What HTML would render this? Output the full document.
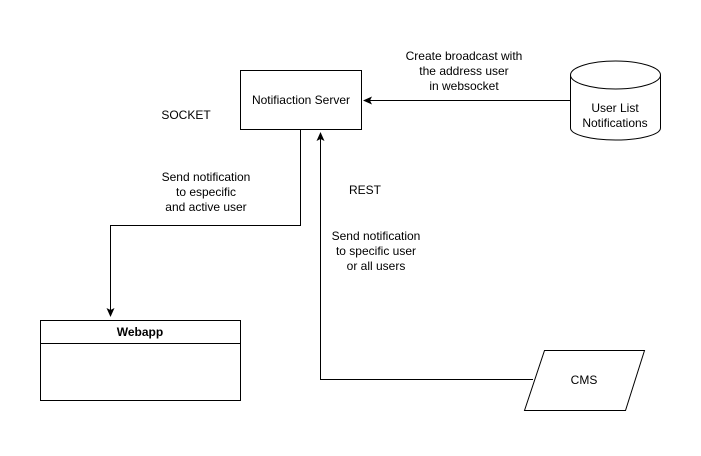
<!DOCTYPE html>
<html><head><style>body{margin:0;background:#fff}</style></head><body>
<svg width="701" height="451" xmlns="http://www.w3.org/2000/svg" font-family="Liberation Sans, Arial, sans-serif" font-size="12">
<defs><marker id="a" markerWidth="10" markerHeight="10" refX="8" refY="5" orient="auto" markerUnits="userSpaceOnUse"><path d="M0,1 L9,5 L0,9 L2,5 Z" fill="#000"/></marker></defs>
<rect x="240.5" y="70.5" width="121" height="59" fill="#fff" stroke="#000"/>
<text x="301" y="104" text-anchor="middle">Notifiaction Server</text>
<text x="186" y="119" text-anchor="middle">SOCKET</text>
<path d="M570,100.5 H364" stroke="#000" fill="none" marker-end="url(#a)"/>
<text x="464" y="60" text-anchor="middle">Create broadcast with</text>
<text x="464" y="75" text-anchor="middle">the address user</text>
<text x="464" y="90" text-anchor="middle">in websocket</text>
<path d="M570.5,75 V128 A45,12 0 0 0 660.5,128 V75" fill="#fff" stroke="#000"/>
<ellipse cx="615.5" cy="75" rx="45" ry="14" fill="#fff" stroke="#000"/>
<text x="615" y="112" text-anchor="middle">User List</text>
<text x="615" y="127" text-anchor="middle">Notifications</text>
<path d="M300.5,130 V225.5 H110.5 V316" stroke="#000" fill="none" marker-end="url(#a)"/>
<text x="206" y="181" text-anchor="middle">Send notification</text>
<text x="206" y="196" text-anchor="middle">to especific</text>
<text x="206" y="211" text-anchor="middle">and active user</text>
<rect x="40.5" y="320.5" width="200" height="80" fill="#fff" stroke="#000"/>
<line x1="40" y1="343.5" x2="240" y2="343.5" stroke="#000"/>
<text x="140" y="336" text-anchor="middle" font-weight="bold">Webapp</text>
<path d="M533,379.5 H320.5 V133" stroke="#000" fill="none" marker-end="url(#a)"/>
<text x="365" y="194" text-anchor="middle">REST</text>
<text x="376" y="240" text-anchor="middle">Send notification</text>
<text x="376" y="255" text-anchor="middle">to specific user</text>
<text x="376" y="270" text-anchor="middle">or all users</text>
<path d="M544.5,350.5 H644.5 L625.5,410.5 H524.5 Z" fill="#fff" stroke="#000"/>
<text x="584" y="384" text-anchor="middle">CMS</text>
</svg>
</body></html>
